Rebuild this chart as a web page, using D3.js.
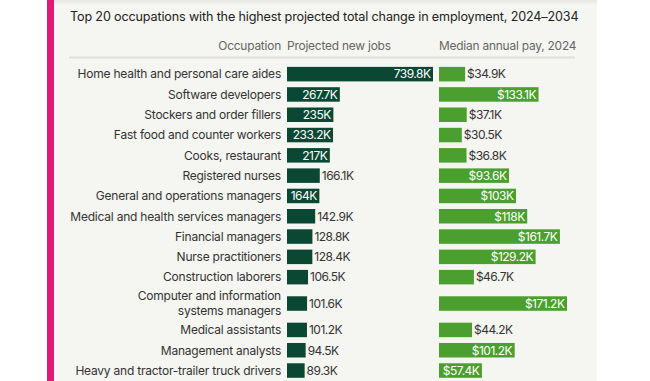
<!DOCTYPE html>
<html>
<head>
<meta charset="utf-8">
<script src="https://cdn.jsdelivr.net/npm/d3@7"></script>
<style>
  html, body { margin: 0; padding: 0; background: #fff; }
  svg { display: block; font-family: Inter, "Open Sans", sans-serif; }
</style>
</head>
<body>
<svg id="chart" width="650" height="381"></svg>
<script>
const title = "Top 20 occupations with the highest projected total change in employment, 2024–2034";
const headers = ["Occupation", "Projected new jobs", "Median annual pay, 2024"];
const occupations = [
  ["Home health and personal care aides"],
  ["Software developers"],
  ["Stockers and order fillers"],
  ["Fast food and counter workers"],
  ["Cooks, restaurant"],
  ["Registered nurses"],
  ["General and operations managers"],
  ["Medical and health services managers"],
  ["Financial managers"],
  ["Nurse practitioners"],
  ["Construction laborers"],
  ["Computer and information", "systems managers"],
  ["Medical assistants"],
  ["Management analysts"],
  ["Heavy and tractor-trailer truck drivers"]
];
const newJobs = [739.8, 267.7, 235, 233.2, 217, 166.1, 164, 142.9, 128.8, 128.4, 106.5, 101.6, 101.2, 94.5, 89.3];
const medianPay = [34.9, 133.1, 37.1, 30.5, 36.8, 93.6, 103, 118, 161.7, 129.2, 46.7, 171.2, 44.2, 101.2, 57.4];

const W = 650, H = 381;
const svg = d3.select("#chart");

// page panel
svg.append("rect").attr("x", 54).attr("y", 0).attr("width", 543).attr("height", H).attr("fill", "#f5f5f1");
const grad = svg.append("defs").append("linearGradient").attr("id", "topShade").attr("x1", 0).attr("x2", 0).attr("y1", 0).attr("y2", 1);
grad.append("stop").attr("offset", 0).attr("stop-color", "#e6e6e2");
grad.append("stop").attr("offset", 1).attr("stop-color", "#f5f5f1");
svg.append("rect").attr("x", 54).attr("y", 0).attr("width", 543).attr("height", 5).attr("fill", "url(#topShade)");
svg.append("rect").attr("x", 47).attr("y", 0).attr("width", 7).attr("height", H).attr("fill", "#e0197b");

// title
svg.append("text").attr("x", 70).attr("y", 21).attr("font-size", 12.6).attr("fill", "#222")
  .attr("letter-spacing", "-0.15px").text(title);

// headers
const hdr = svg.append("g").attr("font-size", 11.9).attr("fill", "#666").attr("letter-spacing", "-0.2px");
hdr.append("text").attr("x", 281).attr("y", 50).attr("text-anchor", "end").text(headers[0]);
hdr.append("text").attr("x", 287).attr("y", 50).text(headers[1]);
hdr.append("text").attr("x", 439).attr("y", 50).text(headers[2]);
svg.append("line").attr("x1", 69).attr("x2", 575).attr("y1", 57.5).attr("y2", 57.5)
  .attr("stroke", "#e0e0dc").attr("stroke-width", 2);

// vertical layout: units per row (two-line rows take more space)
const units = occupations.map(o => o.length > 1 ? 1.6 : 1);
const cum = [0, ...d3.cumsum(units)];
const y = d3.scaleLinear().domain([0, cum[cum.length - 1]]).range([64, 64 + cum[cum.length - 1] * 20.3]);
const rowCenter = i => (y(cum[i]) + y(cum[i + 1])) / 2;

const xJobs = d3.scaleLinear().domain([0, d3.max(newJobs)]).range([0, 146]);
const xPay = d3.scaleLinear().domain([0, d3.max(medianPay)]).range([0, 128]);
const jobsX0 = 287, payX0 = 439, barH = 14.5;

const fmtJobs = v => d3.format(",~f")(v) + "K";
const fmtPay = v => "$" + d3.format(",~f")(v) + "K";

const rows = svg.append("g").selectAll("g").data(occupations).join("g")
  .attr("transform", (d, i) => `translate(0,${rowCenter(i)})`);

// occupation labels
rows.append("text").attr("x", 281).attr("text-anchor", "end").attr("font-size", 12).attr("fill", "#333")
  .attr("letter-spacing", "-0.22px")
  .each(function (d) {
    const t = d3.select(this);
    const n = d.length;
    d.forEach((line, k) => {
      t.append("tspan").attr("x", 281).attr("y", (k - (n - 1) / 2) * 15 + 4.3).text(line);
    });
  });

function barsWithLabels(sel, values, scale, x0, color, fmt) {
  sel.append("rect").attr("x", x0).attr("y", -barH / 2).attr("height", barH)
    .attr("width", (d, i) => scale(values[i])).attr("fill", color);
  sel.append("text").attr("font-size", 12).attr("y", 4.3).attr("letter-spacing", "-0.5px")
    .text((d, i) => fmt(values[i]))
    .each(function (d, i) {
      const w = scale(values[i]);
      const tw = this.getComputedTextLength();
      const t = d3.select(this);
      if (tw + 3 <= w) {
        t.attr("x", x0 + w - 2.5).attr("text-anchor", "end").attr("fill", "#fff");
      } else {
        t.attr("x", x0 + w + 2).attr("text-anchor", "start").attr("fill", "#333");
      }
    });
}

barsWithLabels(rows, newJobs, xJobs, jobsX0, "#0b4834", fmtJobs);
barsWithLabels(rows, medianPay, xPay, payX0, "#4b9f2e", fmtPay);
</script>
</body>
</html>
